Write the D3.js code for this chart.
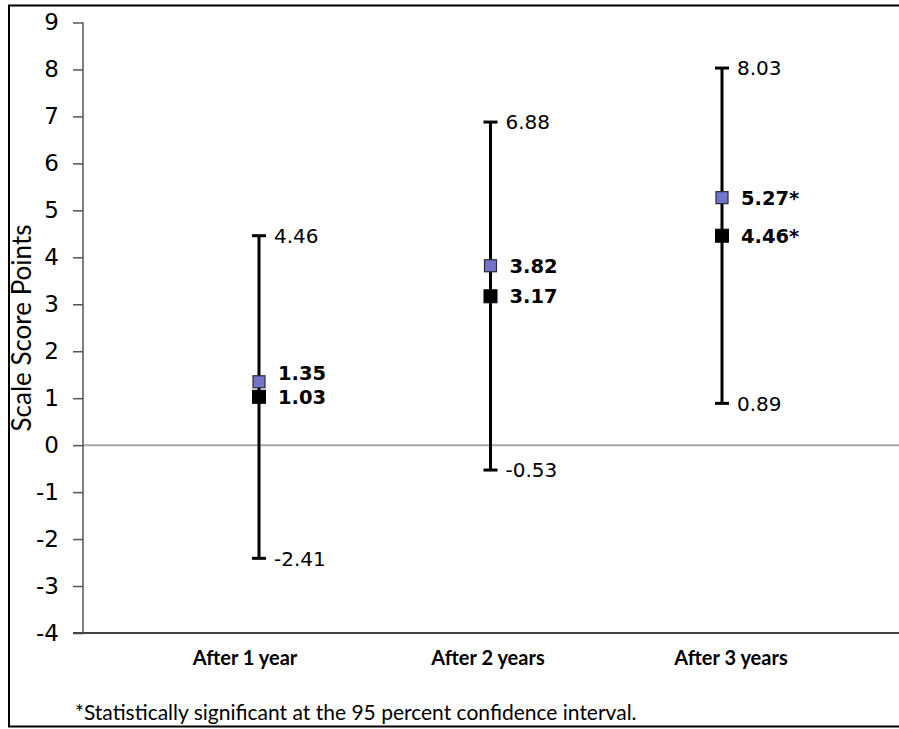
<!DOCTYPE html>
<html>
<head>
<meta charset="utf-8">
<script src="https://cdn.jsdelivr.net/npm/d3@7/dist/d3.min.js"></script>
<style>
  html, body { margin: 0; padding: 0; background: #fff; }
  svg { display: block; }
</style>
</head>
<body>
<svg id="chart" width="899" height="729"></svg>
<script>
// Categories and series
const categories = ["After 1 year", "After 2 years", "After 3 years"];
const seriesA = [1.35, 3.82, 5.27];          // blue markers
const seriesB = [1.03, 3.17, 4.46];          // black markers with CIs
const ciLow = [-2.41, -0.53, 0.89];
const ciHigh = [4.46, 6.88, 8.03];
const significant = [false, false, true];
const yTicks = [-4, -3, -2, -1, 0, 1, 2, 3, 4, 5, 6, 7, 8, 9];
const yTitle = "Scale Score Points";
const footnote = "*Statistically significant at the 95 percent confidence interval.";

(function draw() {
const svg = d3.select("#chart");
const W = 899;
const axisX = 83, plotTop = 22.5, plotBottom = 633;

const y = d3.scaleLinear().domain([-4, 9]).range([plotBottom, plotTop]);
const xMark = d3.scalePoint().domain(categories).range([259, 722]);
const xLabel = d3.scalePoint().domain(categories).range([245, 731]);

const numFont = "'DejaVu Sans', Verdana, sans-serif";
const txtFont = "Lato, 'Open Sans', sans-serif";
// plain hyphen for negatives
const fmt2 = v => v.toFixed(2);
const fmtInt = v => String(v);

// outer frame
svg.append("rect")
  .attr("x", 9).attr("y", 5.5)
  .attr("width", W + 10).attr("height", 721)
  .attr("fill", "none").attr("stroke", "#000").attr("stroke-width", 2);

// zero reference line
svg.append("line")
  .attr("x1", axisX).attr("x2", W)
  .attr("y1", y(0)).attr("y2", y(0))
  .attr("stroke", "#a6a6a6").attr("stroke-width", 2);

// y axis
const yAxis = d3.axisLeft(y).tickValues(yTicks).tickSize(10).tickPadding(14).tickFormat(fmtInt);
const gy = svg.append("g").attr("transform", `translate(${axisX},0)`).call(yAxis);
gy.select(".domain").attr("stroke", "#555").attr("stroke-width", 1.5).attr("d", `M0,${plotTop}V${plotBottom}`);
gy.selectAll(".tick line").attr("stroke", "#555").attr("stroke-width", 1.5);
gy.selectAll(".tick text")
  .attr("font-family", numFont).attr("font-size", 23).attr("fill", "#000");

// x axis baseline
svg.append("line")
  .attr("x1", 73).attr("x2", W)
  .attr("y1", plotBottom).attr("y2", plotBottom)
  .attr("stroke", "#444").attr("stroke-width", 2);

// category labels
svg.append("g").selectAll("text").data(categories).join("text")
  .attr("x", d => xLabel(d)).attr("y", 665)
  .attr("text-anchor", "middle")
  .attr("font-family", txtFont).attr("font-weight", "bold").attr("font-size", 20)
  .attr("fill", "#000")
  .text(d => d);

// y title
svg.append("text")
  .attr("transform", `translate(31,328) rotate(-90)`)
  .attr("text-anchor", "middle")
  .attr("font-family", txtFont).attr("font-size", 26).attr("fill", "#000")
  .text(yTitle);

// footnote
svg.append("text")
  .attr("x", 75).attr("y", 720)
  .attr("font-family", txtFont).attr("font-size", 21).attr("fill", "#000")
  .text(footnote);

const rows = categories.map((c, i) => ({
  c, a: seriesA[i], b: seriesB[i], lo: ciLow[i], hi: ciHigh[i], sig: significant[i]
}));

const g = svg.append("g");

// confidence interval whiskers
g.selectAll(".ci").data(rows).join("line")
  .attr("x1", d => xMark(d.c)).attr("x2", d => xMark(d.c))
  .attr("y1", d => y(d.lo)).attr("y2", d => y(d.hi))
  .attr("stroke", "#000").attr("stroke-width", 3);

const capW = 14;
["lo", "hi"].forEach(k => {
  g.selectAll(".cap-" + k).data(rows).join("line")
    .attr("x1", d => xMark(d.c) - capW / 2).attr("x2", d => xMark(d.c) + capW / 2)
    .attr("y1", d => y(d[k])).attr("y2", d => y(d[k]))
    .attr("stroke", "#000").attr("stroke-width", 3);

  g.selectAll(".cilab-" + k).data(rows).join("text")
    .attr("x", d => xMark(d.c) + 15).attr("y", d => y(d[k]))
    .attr("dy", "0.36em")
    .attr("font-family", numFont).attr("font-size", 20).attr("fill", "#000")
    .text(d => fmt2(d[k]));
});

// markers
const ms = 13;
g.selectAll(".mb").data(rows).join("rect")
  .attr("x", d => xMark(d.c) - ms / 2).attr("y", d => y(d.b) - ms / 2)
  .attr("width", ms).attr("height", ms)
  .attr("fill", "#000").attr("stroke", "#000").attr("stroke-width", 1);

g.selectAll(".ma").data(rows).join("rect")
  .attr("x", d => xMark(d.c) - (ms - 1) / 2).attr("y", d => y(d.a) - (ms - 1) / 2)
  .attr("width", ms - 1).attr("height", ms - 1)
  .attr("fill", "#7474cc").attr("stroke", "#2b2b3a").attr("stroke-width", 1.2);

// value labels, nudging the upper one when the two would collide
const minGap = 24;
rows.forEach(d => {
  const yb = y(d.b);
  let ya = y(d.a);
  if (yb - ya < minGap) ya = yb - minGap;
  const suffix = d.sig ? "*" : "";
  [[d.a, ya], [d.b, yb]].forEach(([v, yy]) => {
    g.append("text")
      .attr("x", xMark(d.c) + 19).attr("y", yy).attr("dy", "0.36em")
      .attr("font-family", numFont).attr("font-weight", "bold").attr("font-size", 19.5)
      .attr("fill", "#000")
      .text(fmt2(v) + suffix);
  });
});
})();
</script>
</body>
</html>
